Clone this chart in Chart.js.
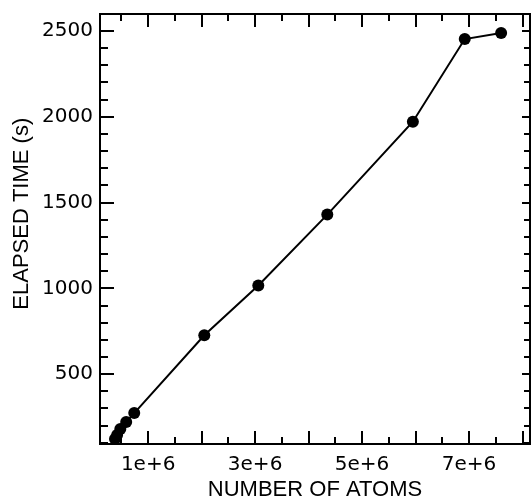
<!DOCTYPE html>
<html>
<head>
<meta charset="utf-8">
<script src="https://cdn.jsdelivr.net/npm/chart.js@4"></script>
<style>
  html, body { margin: 0; padding: 0; background: #fff; overflow: hidden; }
  #wrap { width: 531px; height: 503px; }
  canvas { display: block; }
</style>
</head>
<body>
<div id="wrap"><canvas id="chart1" width="531" height="503"></canvas></div>
<script>
// data
const atoms = [0.38e6, 0.42e6, 0.48e6, 0.59e6, 0.74e6, 2.05e6, 3.06e6, 4.35e6, 5.95e6, 6.92e6, 7.6e6];
const elapsed = [122, 145, 180, 221, 273, 727, 1017, 1430, 1971, 2453, 2488];

const xTickValues = [1e6, 3e6, 5e6, 7e6];
const xTickLabels = ["1e+6", "3e+6", "5e+6", "7e+6"];
const yTickValues = [500, 1000, 1500, 2000, 2500];
const yTickLabels = ["500", "1000", "1500", "2000", "2500"];

const xTitle = "NUMBER OF ATOMS";
const yTitle = "ELAPSED TIME (s)";

// frame with inward ticks on all four sides
const frameTicks = {
  id: "frameTicks",
  beforeDatasetsDraw(chart) {
    const { ctx, chartArea: a, scales } = chart;
    const xs = scales.x, ys = scales.y;
    ctx.save();
    ctx.strokeStyle = "#000";
    ctx.lineWidth = 2;
    ctx.strokeRect(a.left, a.top, a.right - a.left, a.bottom - a.top);

    ctx.beginPath();
    for (let v = 0.5e6; v < xs.max; v += 0.5e6) {
      if (v < xs.min) continue;
      const px = Math.round(xs.getPixelForValue(v));
      const major = Math.abs(v / 1e6 - Math.round(v / 1e6)) < 1e-9;
      const len = major ? 13 : 7;
      ctx.moveTo(px, a.bottom); ctx.lineTo(px, a.bottom - len);
      ctx.moveTo(px, a.top); ctx.lineTo(px, a.top + len);
    }
    for (let v = 100; v < ys.max; v += 100) {
      if (v < ys.min) continue;
      const py = Math.round(ys.getPixelForValue(v));
      const major = v % 500 === 0;
      const len = major ? 14 : 8;
      ctx.moveTo(a.left, py); ctx.lineTo(a.left + len, py);
      ctx.moveTo(a.right, py); ctx.lineTo(a.right - (major ? 8 : 6), py);
    }
    ctx.stroke();
    ctx.restore();
  }
};

const ctx = document.getElementById("chart1").getContext("2d");
const chart1 = new Chart(ctx, {
  type: "line",
  data: {
    datasets: [
      {
        data: atoms.map((x, i) => ({ x: x, y: elapsed[i] })),
        borderColor: "#000",
        backgroundColor: "#000",
        borderWidth: 2,
        pointRadius: 6,
        pointHoverRadius: 6,
        pointBackgroundColor: "#000",
        pointBorderWidth: 0,
        tension: 0,
        fill: false,
        clip: false
      }
    ]
  },
  options: {
    responsive: false,
    animation: false,
    events: [],
    layout: { autoPadding: false, padding: { top: 14, right: 1, left: 0, bottom: 0 } },
    plugins: { legend: { display: false }, tooltip: { enabled: false } },
    scales: {
      x: {
        type: "linear",
        min: 0.1e6,
        max: 8.14e6,
        border: { display: false },
        grid: { display: false, drawTicks: false },
        afterBuildTicks: s => { s.ticks = xTickValues.map(v => ({ value: v })); },
        afterFit: s => { s.height = 59; s.paddingLeft = 0; s.paddingRight = 0; },
        ticks: {
          autoSkip: false,
          maxRotation: 0,
          padding: 9,
          color: "#000",
          font: { family: "DejaVu Sans", size: 20 },
          callback: (v, i) => xTickLabels[i]
        },
        title: {
          display: true,
          text: xTitle,
          color: "#000",
          font: { family: "Liberation Sans", size: 22 },
          padding: { top: 0, bottom: 0 }
        }
      },
      y: {
        type: "linear",
        min: 93,
        max: 2599,
        border: { display: false },
        grid: { display: false, drawTicks: false },
        afterBuildTicks: s => { s.ticks = yTickValues.map(v => ({ value: v })); },
        afterFit: s => { s.width = 100; s.paddingTop = 0; s.paddingBottom = 0; },
        ticks: {
          autoSkip: false,
          padding: 7,
          color: "#000",
          font: { family: "DejaVu Sans", size: 20 },
          callback: (v, i) => yTickLabels[i]
        },
        title: {
          display: true,
          text: "     " + yTitle,
          color: "#000",
          font: { family: "Liberation Sans", size: 22 },
          padding: { top: 9, bottom: 9 }
        }
      }
    }
  },
  plugins: [frameTicks]
});
</script>
</body>
</html>
